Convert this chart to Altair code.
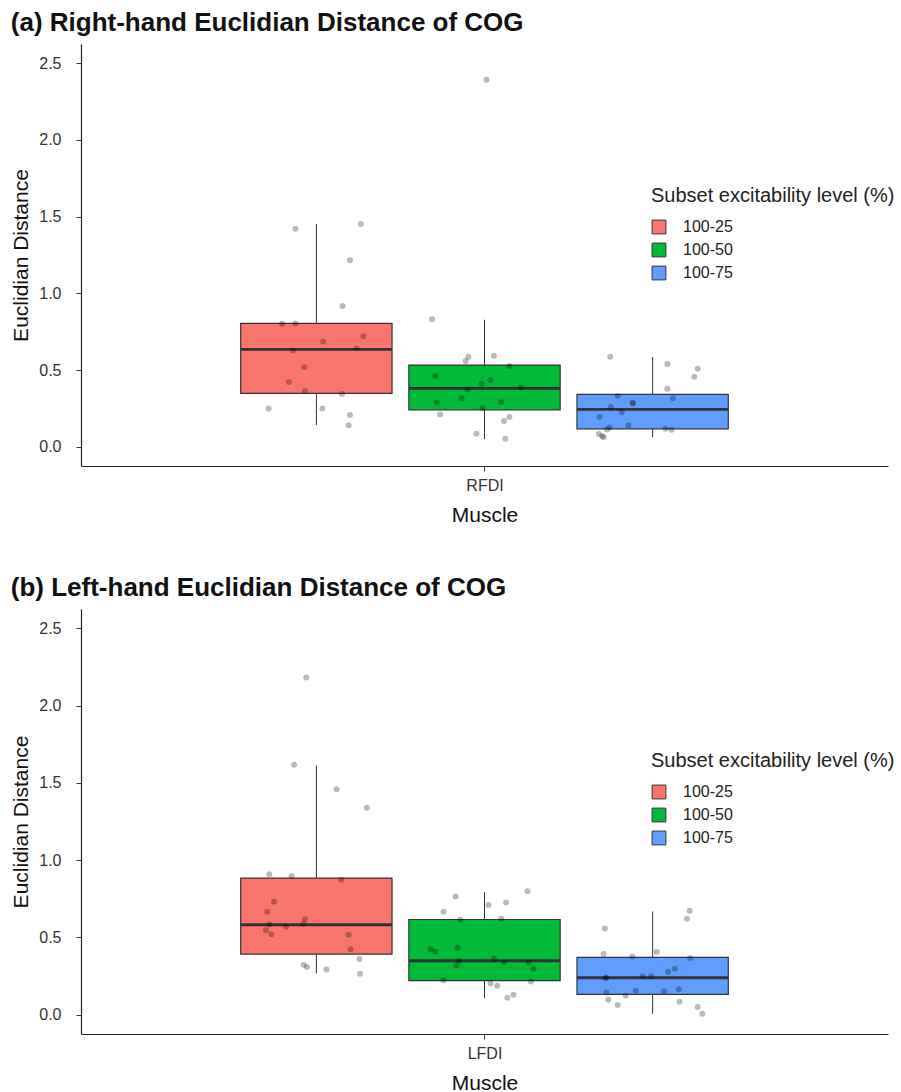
import altair as alt
import pandas as pd

levels = ["100-25", "100-50", "100-75"]
colors = ["#F8766D", "#00BA38", "#619CFF"]
centers = [0.75, 1.0, 1.25]
half_width = 0.1125
y_ticks = [0.0, 0.5, 1.0, 1.5, 2.0, 2.5]

# ---- Panel (a): box statistics ----
a_low = [0.141, 0.050, 0.063]
a_q1 = [0.348, 0.241, 0.117]
a_med = [0.635, 0.381, 0.244]
a_q3 = [0.804, 0.533, 0.342]
a_high = [1.452, 0.828, 0.585]

# ---- Panel (b): box statistics ----
b_low = [0.267, 0.107, 0.006]
b_q1 = [0.392, 0.220, 0.131]
b_med = [0.582, 0.349, 0.239]
b_q3 = [0.884, 0.616, 0.371]
b_high = [1.613, 0.793, 0.668]

# ---- Panel (a) jittered points (x in axis units, y value) ----
a_red_x = [0.789, 0.699, 0.719, 0.760, 0.820, 0.715, 0.810, 0.732, 0.709, 0.733, 0.788, 0.679, 0.759, 0.800, 0.798, 0.719, 0.816, 0.800]
a_red_y = [0.917, 0.802, 0.804, 0.687, 0.720, 0.628, 0.643, 0.518, 0.422, 0.363, 0.344, 0.250, 0.250, 0.207, 0.140, 1.421, 1.452, 1.215]
a_green_x = [0.922, 0.976, 0.972, 1.014, 0.927, 1.037, 1.009, 0.996, 0.975, 1.054, 0.966, 0.929, 1.025, 0.997, 0.934, 1.037, 1.029, 0.988, 1.031, 1.003]
a_green_y = [0.832, 0.587, 0.559, 0.593, 0.461, 0.526, 0.435, 0.411, 0.374, 0.387, 0.317, 0.287, 0.291, 0.252, 0.211, 0.194, 0.169, 0.085, 0.052, 2.392]
a_blue_x = [1.187, 1.272, 1.317, 1.312, 1.272, 1.198, 1.280, 1.220, 1.221, 1.188, 1.204, 1.171, 1.214, 1.186, 1.182, 1.269, 1.278, 1.170, 1.177, 1.175]
a_blue_y = [0.587, 0.539, 0.508, 0.456, 0.378, 0.331, 0.316, 0.287, 0.282, 0.259, 0.226, 0.194, 0.140, 0.126, 0.113, 0.117, 0.111, 0.083, 0.063, 0.070]

# ---- Panel (b) jittered points ----
b_red_x = [0.735, 0.717, 0.780, 0.825, 0.680, 0.713, 0.787, 0.687, 0.677, 0.733, 0.680, 0.705, 0.731, 0.675, 0.683, 0.798, 0.801, 0.814, 0.731, 0.736, 0.765, 0.815]
b_red_y = [2.182, 1.617, 1.459, 1.339, 0.909, 0.897, 0.873, 0.731, 0.666, 0.618, 0.584, 0.569, 0.589, 0.547, 0.521, 0.517, 0.424, 0.360, 0.323, 0.308, 0.293, 0.265]
b_green_x = [1.064, 0.957, 1.006, 1.032, 0.939, 0.964, 1.025, 0.920, 0.927, 0.960, 0.962, 0.958, 1.014, 1.029, 1.066, 1.073, 0.939, 1.069, 1.009, 1.019, 1.034, 1.043]
b_green_y = [0.798, 0.765, 0.709, 0.726, 0.666, 0.614, 0.623, 0.424, 0.408, 0.435, 0.347, 0.319, 0.362, 0.340, 0.336, 0.298, 0.222, 0.215, 0.202, 0.188, 0.110, 0.129]
b_blue_x = [1.305, 1.301, 1.179, 1.177, 1.256, 1.220, 1.306, 1.283, 1.273, 1.235, 1.248, 1.180, 1.181, 1.181, 1.225, 1.267, 1.289, 1.210, 1.184, 1.198, 1.290, 1.317, 1.324]
b_blue_y = [0.673, 0.621, 0.558, 0.392, 0.405, 0.377, 0.366, 0.298, 0.278, 0.248, 0.248, 0.235, 0.241, 0.144, 0.155, 0.151, 0.164, 0.123, 0.097, 0.062, 0.084, 0.049, 0.006]

DARK = "#333333"
W = 807
Y_DOMAIN = [-0.125, 2.625]


def make_panel(title, muscle, low, q1, med, q3, high, pts, height):
    box_df = pd.DataFrame({
        "level": levels,
        "center": centers,
        "left": [c - half_width for c in centers],
        "right": [c + half_width for c in centers],
        "low": low, "q1": q1, "med": med, "q3": q3, "high": high,
    })
    rows = []
    for lev, (xs, ys) in zip(levels, pts):
        for xv, yv in zip(xs, ys):
            rows.append({"level": lev, "x": xv, "y": yv})
    pts_df = pd.DataFrame(rows)

    xscale = alt.Scale(domain=[0.4, 1.6], nice=False, zero=False)
    yscale = alt.Scale(domain=Y_DOMAIN, nice=False, zero=False)
    xaxis = alt.Axis(values=[1], labelExpr=f"'{muscle}'", title="Muscle", grid=False)
    yaxis = alt.Axis(values=y_ticks, format=".1f", title="Euclidian Distance", grid=False)

    base = alt.Chart(box_df)
    whisk = base.mark_rule(color=DARK, strokeWidth=1).encode(
        x=alt.X("center:Q", scale=xscale, axis=xaxis),
        y=alt.Y("low:Q", scale=yscale, axis=yaxis),
        y2="high:Q",
    )
    boxes = base.mark_bar(stroke=DARK, strokeWidth=1.2, opacity=1).encode(
        x=alt.X("left:Q", scale=xscale),
        x2="right:Q",
        y=alt.Y("q1:Q", scale=yscale),
        y2="q3:Q",
        color=alt.Color(
            "level:N",
            scale=alt.Scale(domain=levels, range=colors),
            legend=alt.Legend(
                title="Subset excitability level (%)",
                orient="none", legendX=570, legendY=142,
                symbolType="square", symbolSize=190,
                symbolStrokeColor=DARK, symbolStrokeWidth=1,
                titleFontSize=20, titleFontWeight="normal", titleColor="#222",
                titleLimit=0, labelLimit=0,
                labelFontSize=16, labelColor="#222",
                rowPadding=5, titlePadding=13, labelOffset=16,
            ),
        ),
    )
    medians = base.mark_rule(color=DARK, strokeWidth=2.8).encode(
        x=alt.X("left:Q", scale=xscale),
        x2="right:Q",
        y=alt.Y("med:Q", scale=yscale),
    )
    points = alt.Chart(pts_df).mark_circle(color="black", opacity=0.27, size=36).encode(
        x=alt.X("x:Q", scale=xscale),
        y=alt.Y("y:Q", scale=yscale),
    )
    return alt.layer(whisk, boxes, medians, points).properties(
        width=W, height=height,
        title=alt.TitleParams(
            text=title, anchor="start", frame="bounds", fontSize=26, fontWeight="bold",
            color="#111", offset=8,
        ),
    )


panel_a = make_panel(
    "(a)  Right-hand Euclidian Distance of COG", "RFDI",
    a_low, a_q1, a_med, a_q3, a_high,
    [(a_red_x, a_red_y), (a_green_x, a_green_y), (a_blue_x, a_blue_y)],
    422,
)
panel_b = make_panel(
    "(b)  Left-hand Euclidian Distance of COG", "LFDI",
    b_low, b_q1, b_med, b_q3, b_high,
    [(b_red_x, b_red_y), (b_green_x, b_green_y), (b_blue_x, b_blue_y)],
    425,
)

chart = alt.vconcat(panel_a, panel_b, spacing=50).resolve_scale(
    color="independent"
).resolve_legend(color="independent").properties(
    padding={"left": 10, "top": 10, "right": 0, "bottom": 0},
    background="white",
).configure_view(stroke=None).configure_axis(
    domainColor="#222", domainWidth=1.2, tickColor="#333", tickSize=5,
    labelColor="#333", labelFontSize=16, titleFontSize=21, titleFontWeight="normal",
    titleColor="#111", labelFont="Liberation Sans", titleFont="Liberation Sans",
).configure_axisY(labelPadding=15, titlePadding=7).configure_axisX(
    labelPadding=6, titlePadding=11
).configure_legend(labelFont="Liberation Sans", titleFont="Liberation Sans").configure_title(
    font="Liberation Sans"
)

chart.save("out.html", embed_options={"renderer": "svg", "actions": False})
